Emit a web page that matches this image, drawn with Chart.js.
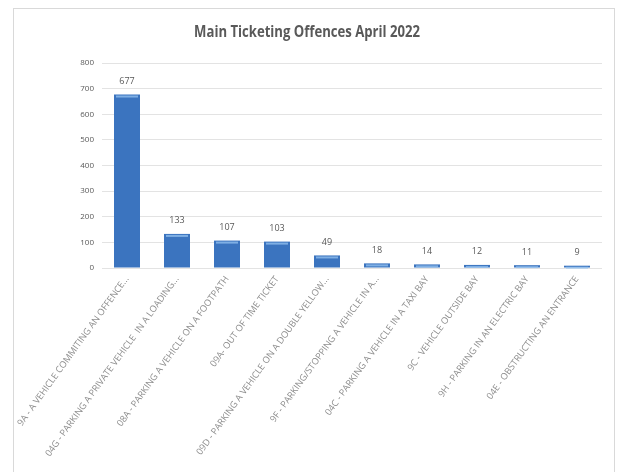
<!DOCTYPE html>
<html>
<head>
<meta charset="utf-8">
<script src="https://cdn.jsdelivr.net/npm/chart.js@4/dist/chart.umd.min.js"></script>
<style>
  html, body { margin: 0; padding: 0; background: #fff; }
  #wrap { position: relative; width: 619px; height: 472px; }
  #frame { position: absolute; left: 13px; top: 8px; width: 602px; height: 470px; border: 1px solid #d9d9d9; box-sizing: border-box; }
  canvas { position: absolute; left: 0; top: 0; }
</style>
</head>
<body>
<div id="wrap">
  <div id="frame"></div>
  <canvas id="c" width="619" height="472"></canvas>
</div>
<script>
const chartTitle = "Main Ticketing Offences April 2022";
const categories = [
  "9A - A VEHICLE COMMITING AN OFFENCE...",
  "04G - PARKING A PRIVATE VEHICLE  IN A LOADING...",
  "08A - PARKING A VEHICLE ON A FOOTPATH",
  "09A- OUT OF TIME TICKET",
  "09D - PARKING A VEHICLE ON A DOUBLE YELLOW...",
  "9F - PARKING/STOPPING A VEHICLE IN A...",
  "04C - PARKING A VEHICLE IN A TAXI BAY",
  "9C - VEHICLE OUTSIDE BAY",
  "9H - PARKING IN AN ELECTRIC BAY",
  "04E - OBSTRUCTING AN ENTRANCE"
];
const offenceCounts = [677, 133, 107, 103, 49, 18, 14, 12, 11, 9];
const yTicks = [0, 100, 200, 300, 400, 500, 600, 700, 800];

const FONT = "'Open Sans', sans-serif";

function barFill(context) {
  const chart = context.chart;
  const el = context.element;
  if (!el || !chart.chartArea) return '#3B74BF';
  const w = el.width || 26;
  const x0 = el.x - w / 2, x1 = el.x + w / 2;
  if (!isFinite(x0) || !isFinite(x1)) return '#3B74BF';
  const g = chart.ctx.createLinearGradient(x0, 0, x1, 0);
  g.addColorStop(0, '#1E4C8A');
  g.addColorStop(0.12, '#3A78C8');
  g.addColorStop(0.5, '#4A89D8');
  g.addColorStop(0.88, '#3A78C8');
  g.addColorStop(1, '#1E4C8A');
  return g;
}

const titleAndLabels = {
  id: 'titleAndLabels',
  afterDraw(chart) {
    const ctx = chart.ctx;
    ctx.save();
    ctx.font = "bold 16px " + FONT;
    ctx.fillStyle = '#595959';
    ctx.textAlign = 'center';
    ctx.textBaseline = 'middle';
    ctx.translate(307, 32);
    ctx.scale(0.82, 1);
    ctx.fillText(chartTitle, 0, 0);
    ctx.restore();
  },
  afterDatasetsDraw(chart) {
    const ctx = chart.ctx;
    const meta = chart.getDatasetMeta(0);
    ctx.save();
    meta.data.forEach((bar) => {
      const w = bar.width;
      ctx.fillStyle = 'rgba(150,195,240,0.75)';
      ctx.fillRect(bar.x - w / 2 + 2, bar.y + 1, w - 4, 2);
    });
    ctx.font = "9px " + FONT;
    ctx.fillStyle = '#595959';
    ctx.textAlign = 'center';
    ctx.textBaseline = 'middle';
    meta.data.forEach((bar, i) => {
      ctx.fillText(String(offenceCounts[i]), bar.x, bar.y - 13);
    });
    ctx.restore();
  }
};

new Chart(document.getElementById('c'), {
  type: 'bar',
  data: {
    labels: categories,
    datasets: [{
      data: offenceCounts,
      backgroundColor: barFill,
      borderWidth: 0,
      barPercentage: 0.52,
      categoryPercentage: 1.0
    }]
  },
  options: {
    responsive: false,
    animation: false,
    layout: { padding: { left: 13, right: 17, top: 63, bottom: 4 } },
    plugins: {
      legend: { display: false },
      tooltip: { enabled: false },
      title: { display: false }
    },
    scales: {
      x: {
        grid: { display: false, drawTicks: false },
        border: { display: false },
        ticks: {
          color: '#8c8c8c',
          font: { family: FONT, size: 9.2 },
          minRotation: 54,
          maxRotation: 54,
          autoSkip: false,
          padding: 6
        },
        afterFit(s) { s.height = 200; s.paddingLeft = 0; s.paddingRight = 0; }
      },
      y: {
        min: 0,
        max: 800,
        afterBuildTicks(s) { s.ticks = yTicks.map(v => ({ value: v })); },
        grid: { color: '#e3e3e3', drawTicks: false, lineWidth: 1 },
        border: { display: false },
        ticks: {
          color: '#595959',
          font: { family: FONT, size: 8 },
          padding: 8
        },
        afterFit(s) { s.width = 89; s.paddingTop = 0; s.paddingBottom = 0; }
      }
    }
  },
  plugins: [titleAndLabels]
});
</script>
</body>
</html>
